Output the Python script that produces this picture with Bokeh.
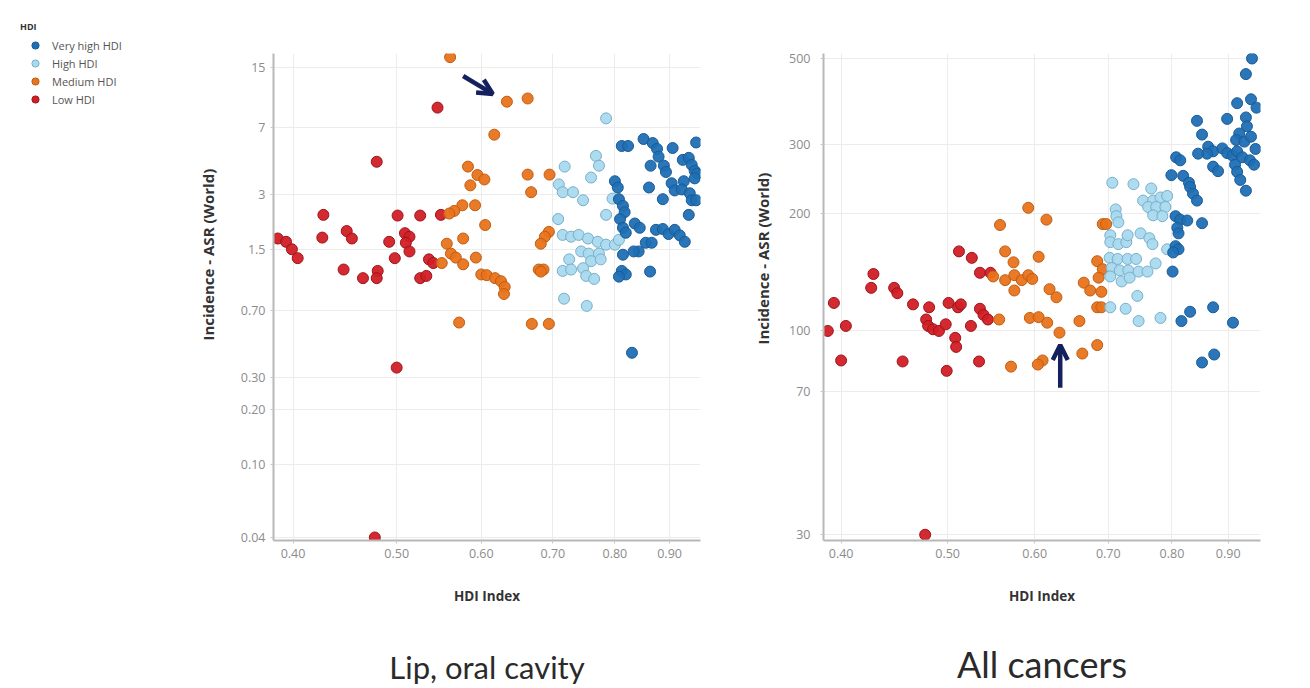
from bokeh.plotting import figure
from bokeh.layouts import row, column
from bokeh.models import (FixedTicker, Legend, LegendItem, Title, Arrow, OpenHead,
                          Range1d, CustomJSTickFormatter, LogAxis)
from bokeh.embed import file_html
from bokeh.resources import INLINE

# ---------------- data ----------------
GROUPS = ["Very high HDI", "High HDI", "Medium HDI", "Low HDI"]
FILL = {"Very high HDI": "#1f6fb4", "High HDI": "#a9d9ee", "Medium HDI": "#e8731c", "Low HDI": "#d01f25"}
EDGE = {"Very high HDI": "#195c97", "High HDI": "#78b0c9", "Medium HDI": "#c15d10", "Low HDI": "#a0141b"}

X_TICKS = [0.40, 0.50, 0.60, 0.70, 0.80, 0.90]
X_LABELS = ["0.40", "0.50", "0.60", "0.70", "0.80", "0.90"]
LIP_Y_TICKS = [15, 7, 3, 1.5, 0.70, 0.30, 0.20, 0.10, 0.04]
LIP_Y_LABELS = ["15", "7", "3", "1.5", "0.70", "0.30", "0.20", "0.10", "0.04"]
ALL_Y_TICKS = [500, 300, 200, 100, 70, 30]
ALL_Y_LABELS = ["500", "300", "200", "100", "70", "30"]

# Lip, oral cavity
LIP_LOW_X = [0.387, 0.394, 0.399, 0.404, 0.427, 0.426, 0.449, 0.454, 0.446, 0.465,
             0.480, 0.479, 0.501, 0.526, 0.550, 0.492, 0.509, 0.514, 0.510, 0.514,
             0.498, 0.536, 0.541, 0.526, 0.533, 0.546, 0.479, 0.500, 0.477]
LIP_LOW_Y = [1.73, 1.66, 1.51, 1.35, 2.33, 1.75, 1.90, 1.73, 1.17, 1.05,
             1.15, 1.05, 2.31, 2.31, 2.33, 1.66, 1.85, 1.77, 1.64, 1.47,
             1.35, 1.33, 1.27, 1.05, 1.08, 9.0, 4.55, 0.34, 0.04]
LIP_MED_X = [0.561, 0.634, 0.663, 0.617, 0.583, 0.586, 0.595, 0.604, 0.663, 0.695,
             0.668, 0.592, 0.576, 0.566, 0.560, 0.605, 0.694, 0.688, 0.682, 0.557,
             0.562, 0.568, 0.577, 0.593, 0.577, 0.551, 0.679, 0.686, 0.682, 0.600,
             0.607, 0.618, 0.626, 0.631, 0.630, 0.572, 0.669, 0.694]
LIP_MED_Y = [17.0, 9.7, 10.1, 6.4, 4.28, 3.38, 3.85, 3.64, 3.87, 3.87,
             3.10, 2.63, 2.63, 2.45, 2.37, 2.05, 1.88, 1.77, 1.62, 1.62,
             1.43, 1.36, 1.73, 1.36, 1.25, 1.27, 1.17, 1.17, 1.14, 1.10,
             1.09, 1.05, 1.01, 0.94, 0.86, 0.60, 0.59, 0.59]
LIP_HIGH_X = [0.785, 0.718, 0.768, 0.773, 0.760, 0.709, 0.715, 0.731, 0.747, 0.796,
              0.785, 0.708, 0.715, 0.728, 0.740, 0.755, 0.771, 0.785, 0.800, 0.807,
              0.744, 0.756, 0.773, 0.760, 0.776, 0.725, 0.715, 0.728, 0.747, 0.752,
              0.765, 0.717, 0.753]
LIP_HIGH_Y = [7.86, 4.28, 4.90, 4.33, 3.73, 3.42, 3.10, 3.10, 2.80, 2.86,
              2.33, 2.21, 1.81, 1.77, 1.81, 1.73, 1.66, 1.60, 1.60, 1.70,
              1.47, 1.43, 1.43, 1.30, 1.33, 1.33, 1.15, 1.17, 1.19, 1.08,
              1.04, 0.81, 0.74]
LIP_VHIGH_X = [0.812, 0.823, 0.851, 0.868, 0.876, 0.879, 0.906, 0.953, 0.800, 0.805,
               0.864, 0.889, 0.893, 0.861, 0.926, 0.938, 0.944, 0.950, 0.955, 0.950,
               0.904, 0.910, 0.928, 0.924, 0.940, 0.944, 0.953, 0.887, 0.807, 0.814,
               0.817, 0.938, 0.809, 0.814, 0.819, 0.835, 0.844, 0.874, 0.887, 0.898,
               0.910, 0.920, 0.930, 0.855, 0.866, 0.842, 0.814, 0.833, 0.812, 0.819,
               0.807, 0.863, 0.830]
LIP_VHIGH_Y = [5.55, 5.55, 6.06, 5.76, 5.35, 4.85, 5.41, 5.80, 3.56, 3.29,
               4.33, 4.33, 4.00, 3.29, 4.66, 4.78, 4.38, 4.06, 3.92, 3.69,
               3.47, 3.17, 3.56, 3.21, 3.06, 2.80, 2.80, 2.84, 2.84, 2.61,
               2.41, 2.33, 2.21, 1.98, 1.86, 2.09, 1.98, 1.93, 1.95, 1.83,
               1.93, 1.80, 1.66, 1.64, 1.64, 1.47, 1.41, 1.47, 1.15, 1.10,
               1.07, 1.14, 0.41]

# All cancers
ALL_LOW_X = [0.512, 0.526, 0.428, 0.426, 0.447, 0.450, 0.394, 0.465, 0.481, 0.501,
             0.511, 0.514, 0.535, 0.547, 0.535, 0.539, 0.544, 0.478, 0.480, 0.485,
             0.491, 0.498, 0.525, 0.404, 0.389, 0.508, 0.509, 0.400, 0.455, 0.499,
             0.534, 0.477]
ALL_LOW_Y = [160, 154, 140, 129, 129, 125, 118, 117, 115, 118,
             115, 117, 141, 141, 114, 110, 107, 107, 103, 101,
             100, 104, 103, 103, 100, 96, 91, 84, 83.5, 79,
             83.5, 30]
ALL_MED_X = [0.592, 0.615, 0.558, 0.692, 0.697, 0.564, 0.574, 0.605, 0.684, 0.692,
             0.686, 0.550, 0.564, 0.575, 0.584, 0.592, 0.597, 0.575, 0.619, 0.628,
             0.665, 0.674, 0.690, 0.557, 0.594, 0.605, 0.616, 0.632, 0.659, 0.684,
             0.690, 0.684, 0.663, 0.610, 0.604, 0.571]
ALL_MED_Y = [207, 193, 187, 188, 188, 160, 150, 155, 151, 144,
             137, 138, 135, 139, 135, 139, 136, 127, 128, 122,
             133, 127, 126, 107, 108, 108.5, 105, 99, 106, 115,
             115, 92, 87.5, 84, 82, 81]
ALL_HIGH_X = [0.706, 0.738, 0.766, 0.753, 0.769, 0.781, 0.792, 0.761, 0.774, 0.789,
              0.769, 0.784, 0.711, 0.712, 0.715, 0.703, 0.703, 0.715, 0.727, 0.729,
              0.749, 0.763, 0.768, 0.792, 0.702, 0.714, 0.729, 0.742, 0.705, 0.717,
              0.730, 0.746, 0.760, 0.773, 0.703, 0.720, 0.732, 0.744, 0.703, 0.726,
              0.746, 0.781]
ALL_HIGH_Y = [240, 238, 232, 216, 216, 220, 222, 208, 208, 208,
              198, 197, 205, 197, 190, 176, 169, 167, 169, 176,
              178, 173, 167, 162, 154, 153, 153, 153, 145, 143,
              143, 142, 142, 149, 138, 134, 137, 123, 115, 114,
              106, 108]
ALL_VHIGH_X = [0.946, 0.934, 0.917, 0.944, 0.955, 0.898, 0.843, 0.934, 0.936, 0.921,
               0.915, 0.931, 0.944, 0.852, 0.863, 0.872, 0.889, 0.898, 0.908, 0.861,
               0.845, 0.953, 0.917, 0.927, 0.942, 0.950, 0.807, 0.814, 0.872, 0.881,
               0.913, 0.917, 0.923, 0.934, 0.799, 0.819, 0.829, 0.831, 0.836, 0.843,
               0.806, 0.814, 0.826, 0.852, 0.809, 0.811, 0.806, 0.811, 0.802, 0.801,
               0.831, 0.872, 0.816, 0.909, 0.852, 0.874]
ALL_VHIGH_Y = [500, 456, 384, 393, 374, 350, 346, 353, 335, 321,
               309, 306, 315, 319, 297, 289, 294, 286, 282, 285,
               285, 293, 289, 279, 274, 267, 279, 274, 264, 257,
               267, 256, 244, 229, 251, 250, 240, 234, 225, 216,
               197, 193, 192, 189, 184, 178, 165, 162, 159, 142,
               112, 115, 106, 105, 83, 87]

# annotation arrows (tail -> tip), data units
LIP_ARROW = [0.577, 13.4, 0.615, 10.7]
ALL_ARROW = [0.633, 71.5, 0.633, 92.0]

NAVY = "#15215e"
TICK_FONT = "Open Sans"
H = 688


def tick_formatter(tick_values, tick_labels):
    return CustomJSTickFormatter(args=dict(tv=tick_values, tl=tick_labels), code="""
        for (let i = 0; i < tv.length; i++) {
            if (Math.abs(tv[i] - tick) <= 1e-6 * Math.abs(tv[i])) { return tl[i]; }
        }
        return "";
    """)


def make_fig(width, xr, yr, borders, y_ticks, y_labels, y_standoff):
    left, right, top, bottom = borders
    p = figure(width=width, height=H, x_axis_type="log", y_axis_type="log",
               x_range=Range1d(*xr), y_range=Range1d(*yr),
               output_backend="svg", toolbar_location=None,
               min_border_left=left, min_border_right=right,
               min_border_top=top, min_border_bottom=bottom)
    p.outline_line_color = None
    p.background_fill_color = "white"
    p.border_fill_color = "white"
    p.xaxis.ticker = FixedTicker(ticks=X_TICKS)
    p.xaxis.formatter = tick_formatter(X_TICKS, X_LABELS)
    p.yaxis.ticker = FixedTicker(ticks=y_ticks)
    p.yaxis.formatter = tick_formatter(y_ticks, y_labels)
    p.xgrid.ticker = FixedTicker(ticks=X_TICKS)
    p.ygrid.ticker = FixedTicker(ticks=y_ticks)
    p.grid.grid_line_color = "#ececec"
    p.grid.grid_line_width = 1
    p.axis.axis_line_color = "#b8b8b8"
    p.axis.axis_line_width = 2
    p.axis.major_tick_line_color = "#c8c8c8"
    p.axis.major_tick_in = 0
    p.axis.major_tick_out = 3
    p.axis.minor_tick_line_color = None
    p.axis.major_label_text_color = "#8c8c8c"
    p.axis.major_label_text_font = TICK_FONT
    p.axis.major_label_text_font_size = "12.5px"
    p.xaxis.major_label_standoff = 5
    p.yaxis.major_label_standoff = y_standoff
    p.xaxis.axis_label = "HDI Index"
    p.xaxis.axis_label_text_font = TICK_FONT
    p.xaxis.axis_label_text_font_style = "bold"
    p.xaxis.axis_label_text_font_size = "13.5px"
    p.xaxis.axis_label_text_color = "#333333"
    p.xaxis.axis_label_standoff = 26
    return p


def add_points(p, series):
    for g in ["Low HDI", "Medium HDI", "High HDI", "Very high HDI"]:
        xs, ys = series[g]
        p.scatter(xs, ys, size=11, fill_color=FILL[g], line_color=EDGE[g],
                  line_width=1, fill_alpha=0.95)


p1 = make_fig(570, (0.3835, 0.962), (0.0385, 17.8), (123, 20, 53, H - 540),
              LIP_Y_TICKS, LIP_Y_LABELS, 5)
p2 = make_fig(582, (0.3855, 0.963), (29.0, 515), (103, 42, 50, H - 541),
              ALL_Y_TICKS, ALL_Y_LABELS, 10)

lip = {"Low HDI": (LIP_LOW_X, LIP_LOW_Y), "Medium HDI": (LIP_MED_X, LIP_MED_Y),
       "High HDI": (LIP_HIGH_X, LIP_HIGH_Y), "Very high HDI": (LIP_VHIGH_X, LIP_VHIGH_Y)}
add_points(p1, lip)
add_points(p2, {"Low HDI": (ALL_LOW_X, ALL_LOW_Y), "Medium HDI": (ALL_MED_X, ALL_MED_Y),
                "High HDI": (ALL_HIGH_X, ALL_HIGH_Y), "Very high HDI": (ALL_VHIGH_X, ALL_VHIGH_Y)})

for p, arr in ((p1, LIP_ARROW), (p2, ALL_ARROW)):
    p.add_layout(Arrow(end=OpenHead(size=15, line_width=4.5, line_color=NAVY),
                       x_start=arr[0], y_start=arr[1], x_end=arr[2], y_end=arr[3],
                       line_width=4.5, line_color=NAVY))

# y-axis titles (placed above centre like the reference)
for p, so, off in ((p1, 40, 200), (p2, 28, 196)):
    p.add_layout(Title(text="Incidence - ASR (World)", align="left", offset=off,
                       text_font=TICK_FONT, text_font_size="15px", text_font_style="bold",
                       text_color="#333333", standoff=so), "left")

# captions under each chart (label-only axes)
for p, txt, fs, so in ((p1, "Lip, oral cavity", "31px", 40), (p2, "All cancers", "36px", 34)):
    cap = LogAxis(ticker=FixedTicker(ticks=[]), axis_label=txt,
                  axis_label_text_font="Lato", axis_label_text_font_size=fs,
                  axis_label_text_font_style="normal", axis_label_text_color="#2a2a2a",
                  axis_label_standoff=so, axis_line_color=None, major_tick_line_color=None,
                  minor_tick_line_color=None, major_tick_out=0, minor_tick_out=0,
                  major_label_standoff=0)
    p.add_layout(cap, "below")

# legend panel (left strip); its renderers reuse the data but lie outside its view
LH = 130
p0 = figure(width=150, height=LH, x_range=Range1d(10, 20), y_range=Range1d(10, 20),
            x_axis_location=None, y_axis_location=None, output_backend="svg",
            toolbar_location=None, min_border=0)
p0.outline_line_color = None
p0.grid.visible = False
legend_rends = {g: p0.scatter(lip[g][0], lip[g][1], size=11, fill_color=FILL[g],
                              line_color=EDGE[g], line_width=1) for g in GROUPS}
legend = Legend(items=[LegendItem(label=g, renderers=[legend_rends[g]]) for g in GROUPS],
                location="top_left", title="HDI",
                title_text_font=TICK_FONT, title_text_font_size="9px", title_text_font_style="bold",
                title_text_color="#333333", title_standoff=3,
                label_text_font=TICK_FONT, label_text_font_size="11px", label_text_color="#555555",
                glyph_width=30, glyph_height=18, label_height=18, label_standoff=2,
                spacing=0, padding=0, margin=20, border_line_color=None,
                background_fill_alpha=0)
p0.add_layout(legend)

layout = row(column(p0, width=150, height=H), p1, p2)
open("out.html", "w").write(file_html(layout, INLINE))
